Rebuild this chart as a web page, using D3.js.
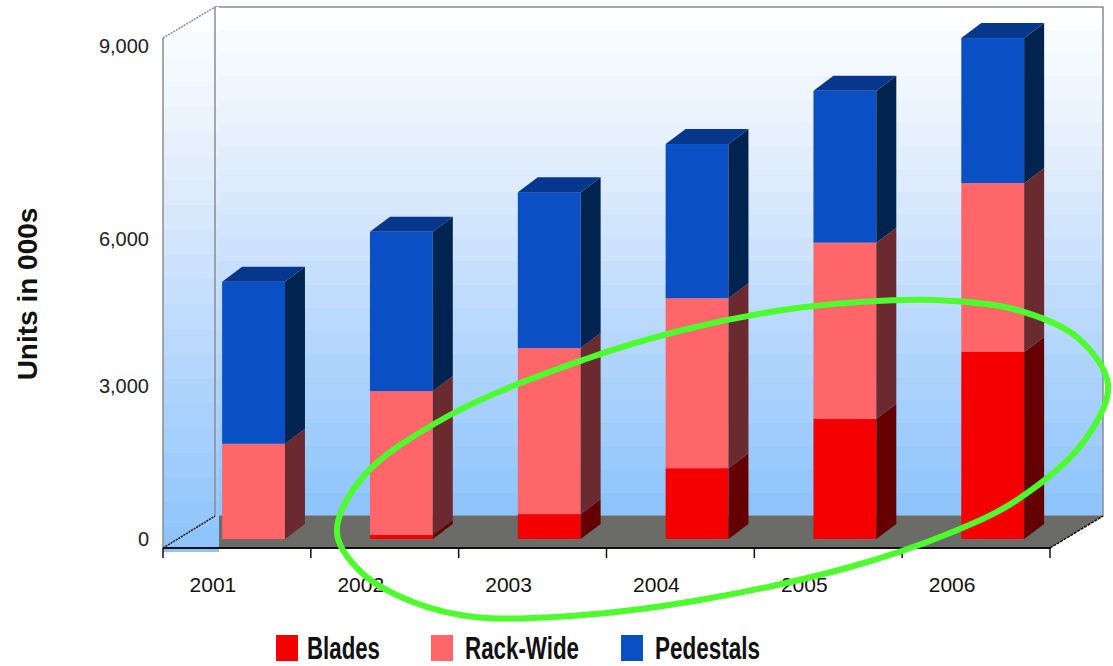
<!DOCTYPE html>
<html>
<head>
<meta charset="utf-8">
<script src="https://cdn.jsdelivr.net/npm/d3@7"></script>
<style>
  html, body { margin: 0; padding: 0; background: #ffffff; }
  svg { display: block; font-family: "Liberation Sans", Arial, Helvetica, sans-serif; }
</style>
</head>
<body>
<svg id="chart" width="1113" height="666"></svg>
<script>
// Unit shipments (thousands) by server form factor
const years = ["2001", "2002", "2003", "2004", "2005", "2006"];
const blades = [0, 70, 440, 1250, 2120, 3300];
const rackWide = [1680, 2540, 2930, 3000, 3110, 2980];
const pedestals = [2860, 2810, 2750, 2720, 2680, 2560];
const yTicks = [0, 3000, 6000, 9000];
const seriesNames = ["Blades", "Rack-Wide", "Pedestals"];

const svg = d3.select("#chart");

// Plot frame (front floor edge, back wall, depth offset)
const frontLeft = 163, frontRight = 1050, frontY = 548;
const depthX = 53, depthY = -32;
const wallTop = 7;
const barBase = 539;

const x = d3.scaleBand().domain(years).range([frontLeft, frontRight]);
const y = d3.scaleLinear().domain([0, 9000]).range([barBase, 29]);
// where the value labels sit along the left edge
const tickY = d3.scaleLinear().domain(yTicks).range([539, 386, 239, 46]);

const colors = {
  "Blades":    { front: "#f40000", side: "#640000", top: "#8a0000" },
  "Rack-Wide": { front: "#fe6669", side: "#6a2a30", top: "#9a3a40" },
  "Pedestals": { front: "#0a4fc4", side: "#00234f", top: "#07378c" }
};

// Banded vertical gradient for the walls
const defs = svg.append("defs");
const grad = defs.append("linearGradient").attr("id", "wallGrad")
  .attr("x1", 0).attr("y1", 0).attr("x2", 0).attr("y2", 1);
const wallColor = d3.scaleLinear()
  .domain([0, 0.3, 0.6, 1])
  .range(["#ffffff", "#e2eefc", "#bcdafd", "#8cc3fb"])
  .interpolate(d3.interpolateRgb);
const nBands = 22;
d3.range(nBands).forEach(i => {
  const c = wallColor((i + 0.5) / nBands);
  grad.append("stop").attr("offset", i / nBands).attr("stop-color", c);
  grad.append("stop").attr("offset", (i + 1) / nBands).attr("stop-color", c);
});

const backLeft = frontLeft + depthX - 1;
const backRight = frontRight + depthX;
const backFloor = frontY + depthY;

// back wall
svg.append("rect")
  .attr("x", backLeft).attr("y", wallTop)
  .attr("width", backRight - backLeft).attr("height", backFloor - wallTop)
  .attr("fill", "url(#wallGrad)")
  .attr("stroke", "#8c8c8c").attr("stroke-width", 1.5);

// left side wall
svg.append("path")
  .attr("d", d3.line()([
    [frontLeft, wallTop - depthY - 1],
    [backLeft, wallTop],
    [backLeft + 4, wallTop],
    [backLeft + 4, frontY + 4],
    [frontLeft, frontY + 4]
  ]) + "Z")
  .attr("fill", "url(#wallGrad)");

// floor
svg.append("path")
  .attr("d", d3.line()([
    [backLeft + 4, backFloor],
    [backRight, backFloor],
    [frontRight, frontY],
    [backLeft + 4, frontY]
  ]) + "Z")
  .attr("fill", "#6b6b67");

// wall edges
svg.append("line")
  .attr("x1", backLeft).attr("y1", wallTop).attr("x2", backLeft).attr("y2", backFloor)
  .attr("stroke", "#8c8c8c").attr("stroke-width", 1.5);
svg.append("line")
  .attr("x1", frontLeft).attr("y1", wallTop - depthY - 1).attr("x2", frontLeft).attr("y2", frontY)
  .attr("stroke", "#8c8c8c").attr("stroke-width", 1.5);
svg.append("line")
  .attr("x1", frontLeft).attr("y1", wallTop - depthY - 1).attr("x2", backLeft).attr("y2", wallTop)
  .attr("stroke", "#8c8c8c").attr("stroke-width", 1.5).attr("stroke-dasharray", "2,1");

// stacked 3D bars
const stackData = years.map((yr, i) => ({
  year: yr, "Blades": blades[i], "Rack-Wide": rackWide[i], "Pedestals": pedestals[i]
}));
const stacked = d3.stack().keys(seriesNames)(stackData);

const barOffset = x.bandwidth() * 0.4;
const barW = x.bandwidth() * 0.425;
const bdx = 20, bdy = -15;

const barsG = svg.append("g");
years.forEach((yr, i) => {
  const x0 = x(yr) + barOffset;
  const g = barsG.append("g");
  stacked.forEach((layer, li) => {
    const seg = layer[i];
    const v0 = seg[0], v1 = seg[1];
    if (v1 - v0 <= 0) return;
    const c = colors[layer.key];
    const yTop = y(v1), yBot = y(v0);
    g.append("rect")
      .attr("x", x0).attr("y", yTop)
      .attr("width", barW).attr("height", yBot - yTop)
      .attr("fill", c.front);
    g.append("path")
      .attr("d", d3.line()([
        [x0 + barW, yTop], [x0 + barW + bdx, yTop + bdy],
        [x0 + barW + bdx, yBot + bdy], [x0 + barW, yBot]
      ]) + "Z")
      .attr("fill", c.side);
    const isTop = stacked.slice(li + 1).every(l => l[i][1] - l[i][0] <= 0);
    if (isTop) {
      g.append("path")
        .attr("d", d3.line()([
          [x0, yTop], [x0 + bdx, yTop + bdy],
          [x0 + barW + bdx, yTop + bdy], [x0 + barW, yTop]
        ]) + "Z")
        .attr("fill", c.top);
    }
  });
});

// front axis and floor edges
svg.append("line")
  .attr("x1", frontLeft).attr("y1", frontY).attr("x2", frontRight).attr("y2", frontY)
  .attr("stroke", "#111").attr("stroke-width", 2);
svg.append("line")
  .attr("x1", frontRight).attr("y1", frontY).attr("x2", backRight).attr("y2", backFloor)
  .attr("stroke", "#111").attr("stroke-width", 1.5).attr("stroke-dasharray", "3,1");
svg.append("line")
  .attr("x1", frontLeft).attr("y1", frontY).attr("x2", backLeft).attr("y2", backFloor)
  .attr("stroke", "#111").attr("stroke-width", 1.5).attr("stroke-dasharray", "2,1");

// category ticks at band edges
const edges = years.map(d => x(d)).concat([frontRight]);
svg.append("g").selectAll("line").data(edges).join("line")
  .attr("x1", d => d).attr("x2", d => d)
  .attr("y1", frontY).attr("y2", frontY + 10)
  .attr("stroke", "#111").attr("stroke-width", 1.5);

// category labels
svg.append("g").selectAll("text").data(years).join("text")
  .attr("x", d => x(d) + x.bandwidth() / 2 - 24)
  .attr("y", 592)
  .attr("text-anchor", "middle")
  .attr("font-size", 21)
  .attr("fill", "#111")
  .text(d => d);

// value labels
const fmt = d3.format(",");
svg.append("g").selectAll("text").data(yTicks).join("text")
  .attr("x", 149)
  .attr("y", d => tickY(d))
  .attr("dy", "0.36em")
  .attr("text-anchor", "end")
  .attr("font-size", 20)
  .attr("fill", "#222")
  .text(d => fmt(d));

// axis title
svg.append("text")
  .attr("transform", "translate(37,294) rotate(-90)")
  .attr("text-anchor", "middle")
  .attr("font-size", 28)
  .attr("font-weight", "bold")
  .attr("fill", "#111")
  .text("Units in 000s");

// legend
const legendItems = [
  { name: "Blades", sx: 276, tx: 307, tw: 73 },
  { name: "Rack-Wide", sx: 431, tx: 465, tw: 114 },
  { name: "Pedestals", sx: 621, tx: 655, tw: 105 }
];
const lg = svg.append("g");
legendItems.forEach(it => {
  lg.append("rect")
    .attr("x", it.sx).attr("y", 635).attr("width", 22).attr("height", 26)
    .attr("fill", colors[it.name].front);
  lg.append("text")
    .attr("x", it.tx).attr("y", 659)
    .attr("font-size", 32).attr("font-weight", "bold")
    .attr("textLength", it.tw).attr("lengthAdjust", "spacingAndGlyphs")
    .attr("fill", "#111")
    .text(it.name);
});

// highlight ring around the growth years
const ring = [
  [337, 533], [362, 478], [450, 415], [583, 360], [683, 330], [783, 310],
  [860, 302], [935, 300], [1017, 310], [1078, 338], [1108, 385], [1085, 440],
  [1017, 500], [950, 533], [850, 567], [700, 600], [583, 615], [475, 617],
  [413, 602], [362, 573]
];
svg.append("path")
  .attr("d", d3.line().curve(d3.curveCatmullRomClosed.alpha(0.5))(ring))
  .attr("fill", "none")
  .attr("stroke", "#4cfc2c")
  .attr("stroke-width", 6);
</script>
</body>
</html>
